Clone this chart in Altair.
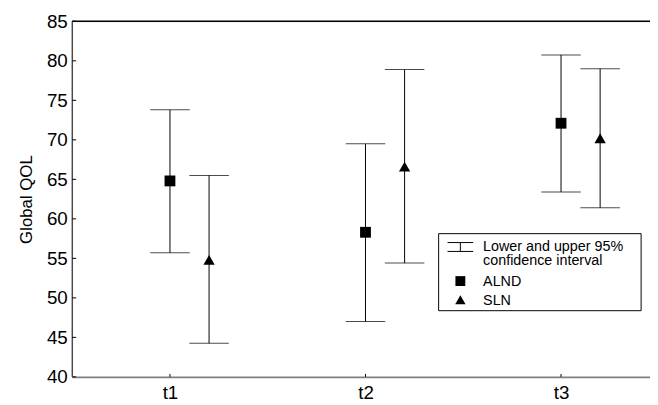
import altair as alt
import pandas as pd

# ---- data ----
times = ["t1", "t2", "t3"]
time_pos = [1, 2, 3]
groups = ["ALND", "SLN"]
alnd_mean = [64.8, 58.3, 72.1]
alnd_lo = [55.7, 47.0, 63.4]
alnd_hi = [73.8, 69.5, 80.75]
sln_mean = [54.8, 66.6, 70.2]
sln_lo = [44.25, 54.4, 61.4]
sln_hi = [65.5, 78.9, 79.0]
y_ticks = [40, 45, 50, 55, 60, 65, 70, 75, 80, 85]
legend_lines = ["Lower and upper 95%", "confidence interval"]
legend_groups = ["ALND", "SLN"]

rows = []
for i, t in enumerate(times):
    rows.append({"time": t, "pos": time_pos[i], "group": "ALND",
                 "mean": alnd_mean[i], "lo": alnd_lo[i], "hi": alnd_hi[i]})
    rows.append({"time": t, "pos": time_pos[i], "group": "SLN",
                 "mean": sln_mean[i], "lo": sln_lo[i], "hi": sln_hi[i]})
df = pd.DataFrame(rows)

W, H = 585, 360
FONT = "Liberation Sans"

xscale = alt.Scale(domain=[0.5, 3.455], nice=False, zero=False)
yscale = alt.Scale(domain=[40, 85], nice=False, zero=False)

base = alt.Chart(df).transform_calculate(
    xp="datum.pos + (datum.group == 'SLN' ? 0.2 : 0)"
)

xenc = alt.X("xp:Q", scale=xscale,
             axis=alt.Axis(values=time_pos, labelExpr="'t' + datum.value",
                           title=None, grid=False, domain=False, ticks=False,
                           tickSize=0, labelFontSize=19, labelPadding=7,
                           labelOverlap=False, labelColor="black", labelFont=FONT))

vrule = base.mark_rule(color="black", strokeWidth=1).encode(
    x=xenc,
    y=alt.Y("lo:Q", scale=yscale,
            axis=alt.Axis(values=y_ticks, title="Global QOL", grid=False,
                          domain=False, ticks=False, tickSize=0,
                          labelFontSize=19, labelPadding=5, labelColor="black",
                          labelOverlap=False, labelFlush=False, labelBound=False,
                          labelFont=FONT, titleFont=FONT, titleFontSize=17,
                          titleFontWeight="normal", titleColor="black",
                          titlePadding=11)),
    y2="hi:Q",
)

XQ = alt.X("xp:Q", scale=xscale, axis=None)

cap_lo = base.mark_tick(orient="horizontal", color="black", size=40, thickness=1).encode(
    x=XQ, y=alt.Y("lo:Q", scale=yscale, axis=None))
cap_hi = base.mark_tick(orient="horizontal", color="black", size=40, thickness=1).encode(
    x=XQ, y=alt.Y("hi:Q", scale=yscale, axis=None))

points = base.mark_point(filled=True, opacity=1, color="black").encode(
    x=XQ,
    y=alt.Y("mean:Q", scale=yscale, axis=None),
    shape=alt.Shape("group:N", scale=alt.Scale(domain=groups, range=["square", "triangle-up"]),
                    legend=None),
    size=alt.Size("group:N", scale=alt.Scale(domain=groups, range=[120, 130]), legend=None),
)

# frame lines
one = pd.DataFrame({"a": [0]})
left_axis = alt.Chart(one).mark_rule(color="black", strokeWidth=1).encode(
    x=alt.value(0), y=alt.value(0), y2=alt.value(H))
top_line = alt.Chart(one).mark_rule(color="black", strokeWidth=1.5).encode(
    x=alt.value(0), x2=alt.value(W), y=alt.value(0))
bottom_line = alt.Chart(one).mark_rule(color="#808080", strokeWidth=2).encode(
    x=alt.value(0), x2=alt.value(W), y=alt.value(H + 0.5))

ytick_df = pd.DataFrame({"v": y_ticks})
yticks = alt.Chart(ytick_df).mark_rule(color="black", strokeWidth=1).encode(
    y=alt.Y("v:Q", scale=yscale, axis=None), x=alt.value(0), x2=alt.value(4))
xtick_df = pd.DataFrame({"v": time_pos})
xticks = alt.Chart(xtick_df).mark_rule(color="black", strokeWidth=1).encode(
    x=alt.X("v:Q", scale=xscale, axis=None), y=alt.value(H - 3), y2=alt.value(H))

# manual legend
lx0, lx1, ly0, ly1 = 371, 576, 215, 293
leg_box = alt.Chart(one).mark_rect(fill="white", stroke="black", strokeWidth=1).encode(
    x=alt.value(lx0), x2=alt.value(lx1), y=alt.value(ly0), y2=alt.value(ly1))
sym_x = 393
ib_top = alt.Chart(one).mark_rule(color="black").encode(
    x=alt.value(sym_x - 13), x2=alt.value(sym_x + 13), y=alt.value(224))
ib_bot = alt.Chart(one).mark_rule(color="black").encode(
    x=alt.value(sym_x - 13), x2=alt.value(sym_x + 13), y=alt.value(233))
ib_mid = alt.Chart(one).mark_rule(color="black").encode(
    x=alt.value(sym_x), y=alt.value(224), y2=alt.value(233))
leg_sq = alt.Chart(one).mark_point(filled=True, opacity=1, color="black", shape="square", size=100).encode(
    x=alt.value(sym_x), y=alt.value(263))
leg_tr = alt.Chart(one).mark_point(filled=True, opacity=1, color="black", shape="triangle-up", size=110).encode(
    x=alt.value(sym_x), y=alt.value(282))

leg_text1 = alt.Chart(one).mark_text(
    align="left", baseline="alphabetic", fontSize=14.5, font=FONT, color="black",
    lineHeight=14.5, text=legend_lines,
).encode(x=alt.value(416), y=alt.value(232.5))

leg_text_df = pd.DataFrame({"label": legend_groups, "ly": [268, 287]})
leg_text2 = alt.Chart(leg_text_df).mark_text(
    align="left", baseline="alphabetic", fontSize=14.5, font=FONT, color="black"
).encode(x=alt.value(416), y=alt.Y("ly:Q", scale=None, axis=None), text="label:N")

chart = alt.layer(
    vrule, cap_lo, cap_hi, points,
    left_axis, top_line, bottom_line, yticks, xticks,
    leg_box, ib_top, ib_bot, ib_mid, leg_sq, leg_tr, leg_text1, leg_text2,
).resolve_axis(x="independent", y="independent").properties(
    width=W, height=H,
    autosize=alt.AutoSizeParams(type="none"),
    padding={"left": 65, "top": 11, "right": 0, "bottom": 26},
).configure_view(strokeWidth=0).configure(font=FONT)

chart.save("out.html", embed_options={"renderer": "svg", "actions": False})
